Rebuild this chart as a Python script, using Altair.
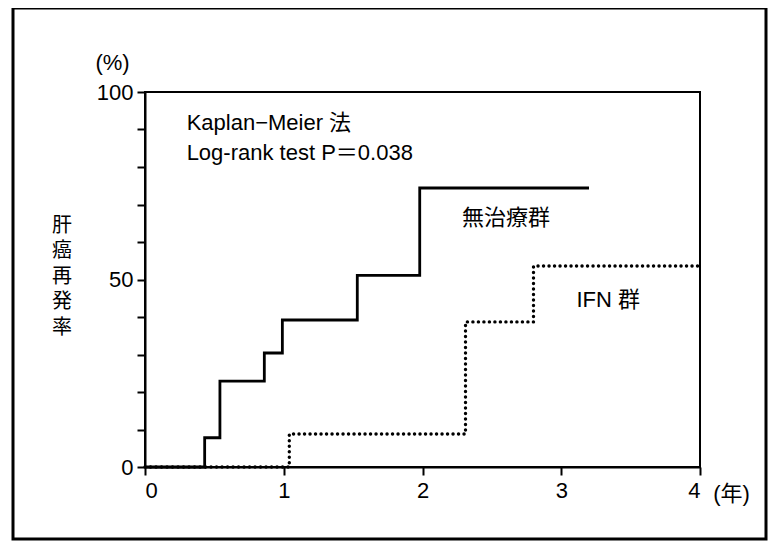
import altair as alt
import pandas as pd

# ---- data ----
untreated_t = [0, 0.43, 0.54, 0.86, 0.99, 1.53, 1.98, 3.2]
untreated_v = [0, 7.8, 22.9, 30.4, 39.2, 51.1, 74.4, 74.4]
ifn_t = [0, 1.04, 2.31, 2.80, 4.0]
ifn_v = [0, 8.8, 38.7, 53.6, 53.6]

y_ticks = [0, 10, 20, 30, 40, 50, 60, 70, 80, 90, 100]
x_ticks = [0, 1, 2, 3, 4]

note_text = ["Kaplan−Meier 法", "Log-rank test P＝0.038", "無治療群", "IFN 群"]
note_x = [0.30, 0.30, 2.285, 3.11]
note_y = [91.7, 83.7, 66.4, 44.5]

# vertical y-axis title, one character per line
y_title_chars = ["肝", "癌", "再", "発", "率"]
y_title_pos = [64.3, 57.5, 50.7, 43.9, 37.1]

FONT = "Liberation Sans, Arial, Noto Sans CJK JP"
CJK = "Noto Sans CJK JP"

W, H = 555, 375

df_u = pd.DataFrame({"t": untreated_t, "v": untreated_v})
df_i = pd.DataFrame({"t": ifn_t, "v": ifn_v})
df_n = pd.DataFrame({"t": note_x, "v": note_y, "text": note_text})
df_yt = pd.DataFrame({"t": [0] * len(y_title_chars), "v": y_title_pos, "text": y_title_chars})

xs = alt.Scale(domain=[0, 4], nice=False, zero=True)
ys = alt.Scale(domain=[0, 100], nice=False, zero=True)

x_axis = alt.Axis(values=x_ticks, format="d", labelFont=FONT, labelFontSize=22,
                  labelColor="black", labelPadding=5, tickSize=8, tickWidth=2,
                  tickColor="black", domainColor="black", domainWidth=2, grid=False,
                  labelOverlap=False,
                  title="(年)", titleFont=FONT, titleFontSize=22, titleFontWeight="normal",
                  titleColor="black", titleX=586, titleY=26, titleBaseline="middle",
                  titleAlign="center")
y_axis = alt.Axis(values=y_ticks, labelExpr="datum.value % 50 == 0 ? datum.label : ''",
                  labelOverlap=False,
                  labelFont=FONT, labelFontSize=22, labelColor="black", labelPadding=4,
                  tickSize=8, tickWidth=2, tickColor="black", domainColor="black",
                  domainWidth=2, grid=False,
                  title="(%)", titleFont=FONT, titleFontSize=22, titleFontWeight="normal",
                  titleColor="black", titleAngle=0, titleX=-33, titleY=-30,
                  titleAlign="center", titleBaseline="middle")

X = alt.X("t:Q", scale=xs, axis=x_axis)
Y = alt.Y("v:Q", scale=ys, axis=y_axis)

solid = alt.Chart(df_u).mark_line(interpolate="step-after", color="black",
                                  strokeWidth=2.8).encode(x=X, y=Y)
dotted = alt.Chart(df_i).mark_line(interpolate="step-after", color="black", strokeWidth=3.4,
                                   strokeDash=[0.1, 5.4], strokeCap="round").encode(x=X, y=Y)
notes = alt.Chart(df_n).mark_text(align="left", baseline="middle", fontSize=22, font=FONT,
                                  color="black").encode(x=X, y=Y, text="text:N")
ytitle = alt.Chart(df_yt).mark_text(fontSize=20, font=CJK, color="black",
                                    align="center", baseline="middle", dx=-83
                                    ).encode(x=X, y=Y, text="text:N")

frame = alt.Chart(pd.DataFrame({"a": [0]})).mark_rect(
    fill=None, stroke="black", strokeWidth=3
).encode(x=alt.value(-132), x2=alt.value(621), y=alt.value(-84), y2=alt.value(447))

chart = alt.layer(frame, solid, dotted, notes, ytitle).properties(
    width=W, height=H,
    background="white",
    autosize=alt.AutoSizeParams(type="none"),
    padding={"left": 137, "top": 84, "right": 69, "bottom": 76},
).configure_view(stroke="black", strokeWidth=2)

chart.save("out.html", embed_options={"renderer": "svg", "actions": False})
